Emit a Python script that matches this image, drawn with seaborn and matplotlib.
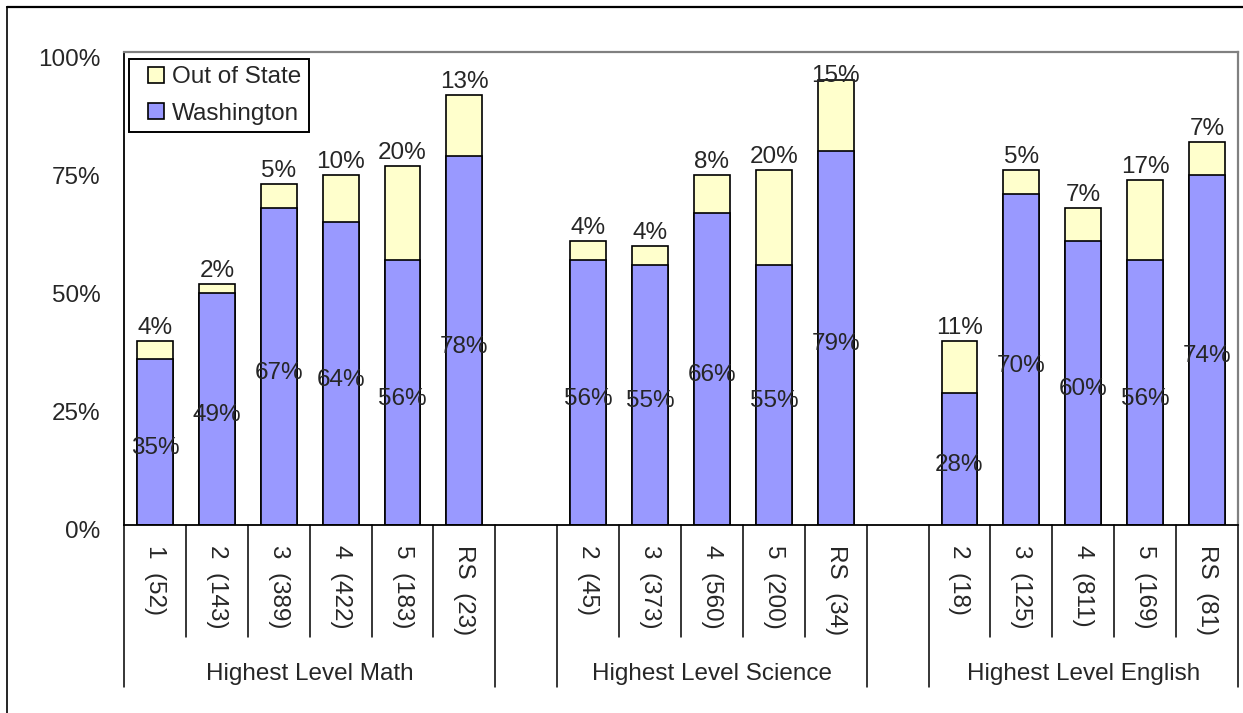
import matplotlib
matplotlib.use("Agg")
import matplotlib.pyplot as plt
import matplotlib.transforms as mtransforms
from matplotlib.legend_handler import HandlerPatch
from matplotlib.lines import Line2D
from matplotlib.patches import Patch, Rectangle
import pandas as pd
import seaborn as sns

# ---- data -------------------------------------------------------------
groups = ["Highest Level Math", "Highest Level Science", "Highest Level English"]

math_levels = ["1  (52)", "2  (143)", "3  (389)", "4  (422)", "5  (183)", "RS  (23)"]
science_levels = ["2  (45)", "3  (373)", "4  (560)", "5  (200)", "RS  (34)"]
english_levels = ["2  (18)", "3  (125)", "4  (811)", "5  (169)", "RS  (81)"]

math_washington = [35, 49, 67, 64, 56, 78]
math_out_of_state = [4, 2, 5, 10, 20, 13]
science_washington = [56, 55, 66, 55, 79]
science_out_of_state = [4, 4, 8, 20, 15]
english_washington = [28, 70, 60, 56, 74]
english_out_of_state = [11, 5, 7, 17, 7]

y_ticks = [0, 25, 50, 75, 100]

WASHINGTON_COLOR = "#9999FF"
OUT_OF_STATE_COLOR = "#FFFFCC"

# ---- long-form table, one empty slot between groups --------------------
rows = []
spans = []
start = 0
for grp, levels, wa, oos in zip(
    groups,
    [math_levels, science_levels, english_levels],
    [math_washington, science_washington, english_washington],
    [math_out_of_state, science_out_of_state, english_out_of_state],
):
    for i, (lab, w, o) in enumerate(zip(levels, wa, oos)):
        rows.append(dict(group=grp, level=lab, pos=start + i,
                         washington=w, out_of_state=o))
    spans.append((start, start + len(levels) - 1))
    start += len(levels) + 1
df = pd.DataFrame(rows)
df["total"] = df["washington"] + df["out_of_state"]

# ---- figure -----------------------------------------------------------
sns.set_style("white")
plt.rcParams["font.family"] = ["Liberation Sans", "DejaVu Sans"]
FS = 17.5

W, H = 1243, 713
fig = plt.figure(figsize=(W / 100, H / 100), dpi=100)
ax = fig.add_axes([124 / W, 188 / H, 1114 / W, 473 / H])

bar_kw = dict(x="pos", native_scale=True, width=0.58, saturation=1,
              edgecolor="black", linewidth=1.2, errorbar=None, ax=ax)
# full stack (out of state on top), then the Washington part over it
sns.barplot(data=df, y="total", color=OUT_OF_STATE_COLOR, **bar_kw)
sns.barplot(data=df, y="washington", color=WASHINGTON_COLOR, **bar_kw)

ax.set_xlim(-0.5, df["pos"].max() + 0.5)
ax.set_ylim(0, 100)
ax.set_xlabel("")
ax.set_ylabel("")
ax.set_xticks([])
ax.set_yticks(y_ticks)
ax.set_yticklabels([f"{v}%" for v in y_ticks])
ax.tick_params(axis="y", length=0, pad=17, labelsize=FS)
shift = mtransforms.ScaledTranslation(0, -0.05, fig.dpi_scale_trans)
for lbl in ax.get_yticklabels():
    lbl.set_transform(lbl.get_transform() + shift)

for side in ["left", "bottom"]:
    ax.spines[side].set_color("black")
    ax.spines[side].set_linewidth(1.3)
for side in ["top", "right"]:
    ax.spines[side].set_color("#808080")
    ax.spines[side].set_linewidth(1.6)

# ---- value labels -----------------------------------------------------
for _, r in df.iterrows():
    ax.annotate(f"{r.washington}%", (r.pos, r.washington / 2),
                xytext=(0, -4.5), textcoords="offset points",
                ha="center", va="center", fontsize=FS)
    ax.text(r.pos, min(r.total + 2.75, 95.0), f"{r.out_of_state}%",
            ha="center", va="center", fontsize=FS)

# ---- two-level category axis -------------------------------------------
xtrans = mtransforms.blended_transform_factory(ax.transData, ax.transAxes)
px = 1 / 473  # one pixel in axes-height units
for _, r in df.iterrows():
    ax.text(r.pos, -20 * px, r.level, transform=xtrans, rotation=-90,
            ha="center", va="top", fontsize=FS)

line_kw = dict(transform=xtrans, clip_on=False, color="black", lw=1.1)
for grp, (s, e) in zip(groups, spans):
    for b in [s - 0.5, e + 0.5]:
        ax.plot([b, b], [0, -162 * px], **line_kw)
    for k in range(s, e):
        ax.plot([k + 0.5, k + 0.5], [0, -112 * px], **line_kw)
    ax.text((s + e) / 2, -149 * px, grp, transform=xtrans,
            ha="center", va="center", fontsize=FS)


# ---- legend -----------------------------------------------------------
def square_key(legend, orig_handle, xdescent, ydescent, width, height,
               fontsize):
    """Small square key, pushed to the right end of the handle box."""
    s = 11.5
    return Rectangle((-xdescent + width - s, -ydescent + (height - s) / 2),
                     s, s)


handles = [
    Patch(facecolor=OUT_OF_STATE_COLOR, edgecolor="black", linewidth=1.2,
          label="Out of State"),
    Patch(facecolor=WASHINGTON_COLOR, edgecolor="black", linewidth=1.2,
          label="Washington"),
]
leg = ax.legend(handles=handles, loc="upper left",
                bbox_to_anchor=(5 / 1114, (525 - 59) / 473), borderaxespad=0,
                fontsize=FS, frameon=True, fancybox=False, shadow=False,
                handlelength=1.15, handleheight=0.7, handletextpad=0.33,
                labelspacing=0.6, borderpad=0.3, framealpha=1,
                edgecolor="black",
                handler_map={Patch: HandlerPatch(patch_func=square_key)})
leg.get_frame().set_linewidth(1.4)

# ---- outer frame of the chart area --------------------------------------
x0, ytop = 7 / W, (H - 7) / H
fig.add_artist(Line2D([x0, 1], [ytop, ytop], transform=fig.transFigure,
                      color="black", lw=1.6))
fig.add_artist(Line2D([x0, x0], [0, ytop], transform=fig.transFigure,
                      color="black", lw=1.2))

fig.savefig("out.png", dpi=100)
